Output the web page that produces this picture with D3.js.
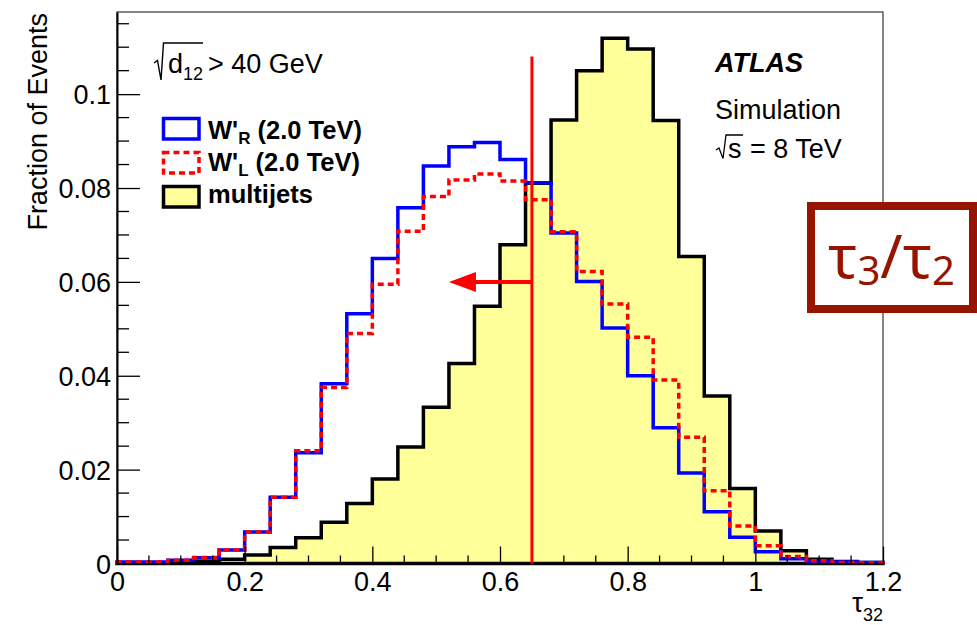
<!DOCTYPE html>
<html>
<head>
<meta charset="utf-8">
<script src="https://cdn.jsdelivr.net/npm/d3@7"></script>
<style>
  html, body { margin: 0; padding: 0; background: #fff; }
  svg { display: block; font-family: "Liberation Sans", Arial, Helvetica, sans-serif; }
</style>
</head>
<body>
<svg id="chart" width="977" height="625"></svg>
<script>
// tau32 binning (30 bins of width 0.04)
const binEdges = [0, 0.04, 0.08, 0.12, 0.16, 0.2, 0.24, 0.28, 0.32, 0.36, 0.4,
                  0.44, 0.48, 0.52, 0.56, 0.6, 0.64, 0.68, 0.72, 0.76, 0.8,
                  0.84, 0.88, 0.92, 0.96, 1.0, 1.04, 1.08, 1.12, 1.16, 1.2];

// Fraction of events per bin
const wprimeR = [0.0003, 0.0003, 0.0007, 0.0012, 0.0029, 0.0067, 0.0141, 0.0236, 0.0383, 0.0532,
                 0.0650, 0.0758, 0.0847, 0.0888, 0.0897, 0.0861, 0.0811, 0.0704, 0.0601, 0.0502,
                 0.0400, 0.0289, 0.0193, 0.0110, 0.0056, 0.0025, 0.0010, 0.0005, 0.0003, 0.0002];
const wprimeL = [0.0003, 0.0003, 0.0007, 0.0013, 0.0029, 0.0067, 0.0141, 0.0240, 0.0375, 0.0490,
                 0.0595, 0.0708, 0.0782, 0.0817, 0.0830, 0.0815, 0.0775, 0.0707, 0.0622, 0.0553,
                 0.0482, 0.0391, 0.0269, 0.0155, 0.0080, 0.0038, 0.0015, 0.0006, 0.0002, 0.0001];
const multijets = [0.0001, 0.0001, 0.0002, 0.0005, 0.0009, 0.0018, 0.0034, 0.0055, 0.0088, 0.0128,
                   0.0180, 0.0248, 0.0333, 0.0426, 0.0548, 0.0679, 0.0810, 0.0945, 0.1050, 0.1119,
                   0.1096, 0.0944, 0.0654, 0.0357, 0.0160, 0.0069, 0.0027, 0.0009, 0.0004, 0.0002];

const xTickValues = [0, 0.2, 0.4, 0.6, 0.8, 1, 1.2];
const xTickLabels = ["0", "0.2", "0.4", "0.6", "0.8", "1", "1.2"];
const yTickValues = [0, 0.02, 0.04, 0.06, 0.08, 0.1];
const yTickLabels = ["0", "0.02", "0.04", "0.06", "0.08", "0.1"];

// Selection cut on tau32
const cutValue = 0.65;
const cutLineTop = 0.108;
const arrowLevel = 0.06;
const arrowTip = 0.52;

const legendEntries = [
  { main: "W'", sub: "R", rest: " (2.0 TeV)", kind: "R" },
  { main: "W'", sub: "L", rest: " (2.0 TeV)", kind: "L" },
  { main: "multijets", sub: "", rest: "", kind: "QCD" }
];

const plot = { left: 117, right: 883, top: 12, bottom: 563.5 };
const svg = d3.select("#chart");

const x = d3.scaleLinear().domain([0, 1.2]).range([plot.left, plot.right]);
const y = d3.scaleLinear().domain([0, 0.1175]).range([plot.bottom, plot.top]);

const colR = "#0000ff", colL = "#ff0000", fillQCD = "#ffff99";

// frame
svg.append("rect")
  .attr("x", plot.left).attr("y", plot.top)
  .attr("width", plot.right - plot.left).attr("height", plot.bottom - plot.top)
  .attr("fill", "none").attr("stroke", "#333").attr("stroke-width", 1.2);

function stepPoints(vals) {
  const pts = [[binEdges[0], 0]];
  vals.forEach((v, i) => { pts.push([binEdges[i], v]); pts.push([binEdges[i + 1], v]); });
  pts.push([binEdges[binEdges.length - 1], 0]);
  return pts;
}
const line = d3.line().x(d => x(d[0])).y(d => y(d[1]));

// multijets: filled histogram
svg.append("path")
  .attr("d", line(stepPoints(multijets)) + "Z")
  .attr("fill", fillQCD).attr("stroke", "#000").attr("stroke-width", 3.5)
  .attr("stroke-linejoin", "miter");

// W'_R
svg.append("path")
  .attr("d", line(stepPoints(wprimeR)))
  .attr("fill", "none").attr("stroke", colR).attr("stroke-width", 3.5)
  .attr("stroke-linejoin", "miter");

// W'_L (dashed)
svg.append("path")
  .attr("d", line(stepPoints(wprimeL)))
  .attr("fill", "none").attr("stroke", colL).attr("stroke-width", 3.5)
  .attr("stroke-dasharray", "6,4").attr("stroke-linejoin", "miter");

// axes with inward ticks
const yAxis = d3.axisLeft(y).tickValues(yTickValues)
  .tickFormat((d, i) => yTickLabels[i]).tickSize(-23).tickSizeOuter(0).tickPadding(6);
const gy = svg.append("g").attr("transform", `translate(${plot.left},0)`).call(yAxis);
gy.select(".domain").attr("stroke", "#000").attr("stroke-width", 2);
gy.selectAll(".tick line").attr("stroke", "#000").attr("stroke-width", 1.3);
gy.selectAll(".tick text").attr("font-size", 27).attr("fill", "#000")
  .attr("font-family", "Liberation Sans, Arial, sans-serif").attr("dy", "0.36em");

const yMinor = y.ticks(20).filter(v => !yTickValues.some(t => Math.abs(t - v) < 1e-9));
svg.append("g").selectAll("line").data(yMinor).join("line")
  .attr("x1", plot.left).attr("x2", plot.left + 12)
  .attr("y1", d => y(d)).attr("y2", d => y(d))
  .attr("stroke", "#000").attr("stroke-width", 1.3);

const xAxis = d3.axisBottom(x).tickValues(xTickValues)
  .tickFormat((d, i) => xTickLabels[i]).tickSize(-17).tickSizeOuter(0).tickPadding(8);
const gx = svg.append("g").attr("transform", `translate(0,${plot.bottom})`).call(xAxis);
gx.select(".domain").attr("stroke", "#000").attr("stroke-width", 2);
gx.selectAll(".tick line").attr("stroke", "#000").attr("stroke-width", 1.3);
gx.selectAll(".tick text").attr("font-size", 27).attr("fill", "#000")
  .attr("font-family", "Liberation Sans, Arial, sans-serif");

const xMinor = x.ticks(24).filter(v => !xTickValues.some(t => Math.abs(t - v) < 1e-9));
svg.append("g").selectAll("line").data(xMinor).join("line")
  .attr("x1", d => x(d)).attr("x2", d => x(d))
  .attr("y1", plot.bottom).attr("y2", plot.bottom - 8)
  .attr("stroke", "#000").attr("stroke-width", 1.3);

// axis titles
svg.append("text")
  .attr("transform", `translate(47,${plot.top + 1}) rotate(-90)`)
  .attr("text-anchor", "end").attr("font-size", 27)
  .text("Fraction of Events");

const xt = svg.append("text").attr("x", plot.right).attr("y", 612).attr("text-anchor", "end");
xt.append("tspan").attr("font-size", 28).text("τ");
xt.append("tspan").attr("font-size", 18).attr("dy", 9).text("32");

// cut line and arrow
svg.append("line")
  .attr("x1", x(cutValue)).attr("x2", x(cutValue))
  .attr("y1", y(0)).attr("y2", y(cutLineTop))
  .attr("stroke", colL).attr("stroke-width", 3);
svg.append("line")
  .attr("x1", x(cutValue)).attr("x2", x(arrowTip) + 20)
  .attr("y1", y(arrowLevel)).attr("y2", y(arrowLevel))
  .attr("stroke", colL).attr("stroke-width", 4);
svg.append("path")
  .attr("d", `M${x(arrowTip)},${y(arrowLevel)} L${x(arrowTip) + 27},${y(arrowLevel) - 10} L${x(arrowTip) + 27},${y(arrowLevel) + 10} Z`)
  .attr("fill", colL);

// cut annotation  sqrt(d12) > 40 GeV
svg.append("path").attr("d", "M154,63 L157.5,60.5 L161,80 L163.5,43 L203,43")
  .attr("fill", "none").attr("stroke", "#000").attr("stroke-width", 1.4);
svg.append("text").attr("x", 168).attr("y", 73).attr("font-size", 27).text("d");
svg.append("text").attr("x", 183).attr("y", 80).attr("font-size", 18).text("12");
svg.append("text").attr("x", 208).attr("y", 73).attr("font-size", 27).text("> 40 GeV");

// ATLAS label
svg.append("text").attr("x", 715).attr("y", 72).attr("font-size", 27)
  .attr("font-weight", "bold").attr("font-style", "italic").text("ATLAS");
svg.append("text").attr("x", 715).attr("y", 119).attr("font-size", 27).text("Simulation");
svg.append("path").attr("d", "M716,150 L719,148 L723,158.5 L726,135 L743,135")
  .attr("fill", "none").attr("stroke", "#000").attr("stroke-width", 1.3);
svg.append("text").attr("x", 728).attr("y", 158).attr("font-size", 27).text("s");
svg.append("text").attr("x", 750).attr("y", 158).attr("font-size", 27).text("= 8 TeV");

// legend
const legTop = [118.5, 152.5, 186.5];
const legBase = [139, 171, 203];
legendEntries.forEach((e, i) => {
  const r = svg.append("rect").attr("x", 163.5).attr("y", legTop[i])
    .attr("width", 35.5).attr("height", 20.5).attr("stroke-width", 3.5);
  if (e.kind === "R") r.attr("fill", "#fff").attr("stroke", colR);
  else if (e.kind === "L") r.attr("fill", "#fff").attr("stroke", colL).attr("stroke-dasharray", "6,4");
  else r.attr("fill", fillQCD).attr("stroke", "#000");
  const t = svg.append("text").attr("x", 208).attr("y", legBase[i])
    .attr("font-size", 25.5).attr("font-weight", "bold");
  t.append("tspan").text(e.main);
  if (e.sub) {
    t.append("tspan").attr("font-size", 17).attr("dy", 5).text(e.sub);
    t.append("tspan").attr("dy", -5).text(e.rest);
  }
});

// observable tag box
const tagCol = "#961400";
svg.append("rect").attr("x", 811).attr("y", 206).attr("width", 162).attr("height", 103)
  .attr("fill", "#fff").attr("stroke", tagCol).attr("stroke-width", 8);
const tag = svg.append("text").attr("x", 828).attr("y", 278).attr("fill", tagCol)
  .attr("font-family", "Noto Sans, Open Sans, sans-serif");
tag.append("tspan").attr("font-size", 60).text("τ");
tag.append("tspan").attr("font-size", 40).attr("dy", 7).text("3");
tag.append("tspan").attr("font-size", 60).attr("dy", -7).text("/");
tag.append("tspan").attr("font-size", 60).text("τ");
tag.append("tspan").attr("font-size", 40).attr("dy", 7).text("2");
</script>
</body>
</html>
